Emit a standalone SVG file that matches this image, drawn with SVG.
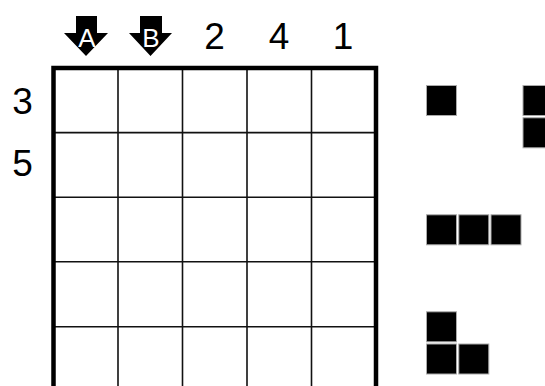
<svg xmlns="http://www.w3.org/2000/svg" width="545" height="386" viewBox="0 0 545 386">
<style>
.lbl{font-family:"Liberation Sans",Arial,sans-serif;font-size:37px;fill:#000;text-anchor:middle}
.al{font-family:"Liberation Sans",Arial,sans-serif;font-size:26px;fill:#fff;text-anchor:middle}
.thin{stroke:#111;stroke-width:1.6;fill:none}
.thick{stroke:#000;stroke-width:4.5;fill:none}
.blk{fill:#000;stroke:#aaa;stroke-width:1}
</style>
<rect width="545" height="386" fill="#fff"/>
<g id="grid">
<path class="thin" d="M118,68V392M182.5,68V392M247,68V392M311.5,68V392M53.5,132.6H376M53.5,197.2H376M53.5,261.8H376M53.5,326.8H376"/>
<path class="thick" d="M53.5,392V68H376V392"/>
</g>
<g id="col-labels">
<g id="arrowA"><path d="M76,16H97V33H108L86,56L64,33H76Z" fill="#000"/><text class="al" x="87" y="47">A</text></g>
<g id="arrowB"><path d="M140,16H162V33H172L150.5,56L129,33H140Z" fill="#000"/><text class="al" x="151" y="47">B</text></g>
<text class="lbl" x="214.5" y="49">2</text>
<text class="lbl" x="279" y="49">4</text>
<text class="lbl" x="343" y="49">1</text>
</g>
<g id="row-labels">
<text class="lbl" x="22.5" y="113.5">3</text>
<text class="lbl" x="22.5" y="176">5</text>
</g>
<g id="pieces">
<g id="p1"><rect class="blk" x="426.5" y="85.5" width="30" height="30"/></g>
<g id="p2"><rect class="blk" x="523" y="85.5" width="30" height="30"/><rect class="blk" x="523" y="117.8" width="30" height="30"/></g>
<g id="p3"><rect class="blk" x="426.5" y="214.8" width="30" height="30"/><rect class="blk" x="458.8" y="214.8" width="30" height="30"/><rect class="blk" x="491" y="214.8" width="30" height="30"/></g>
<g id="p4"><rect class="blk" x="426.5" y="311.8" width="30" height="30"/><rect class="blk" x="426.5" y="344" width="30" height="30"/><rect class="blk" x="458.8" y="344" width="30" height="30"/></g>
</g>
</svg>
